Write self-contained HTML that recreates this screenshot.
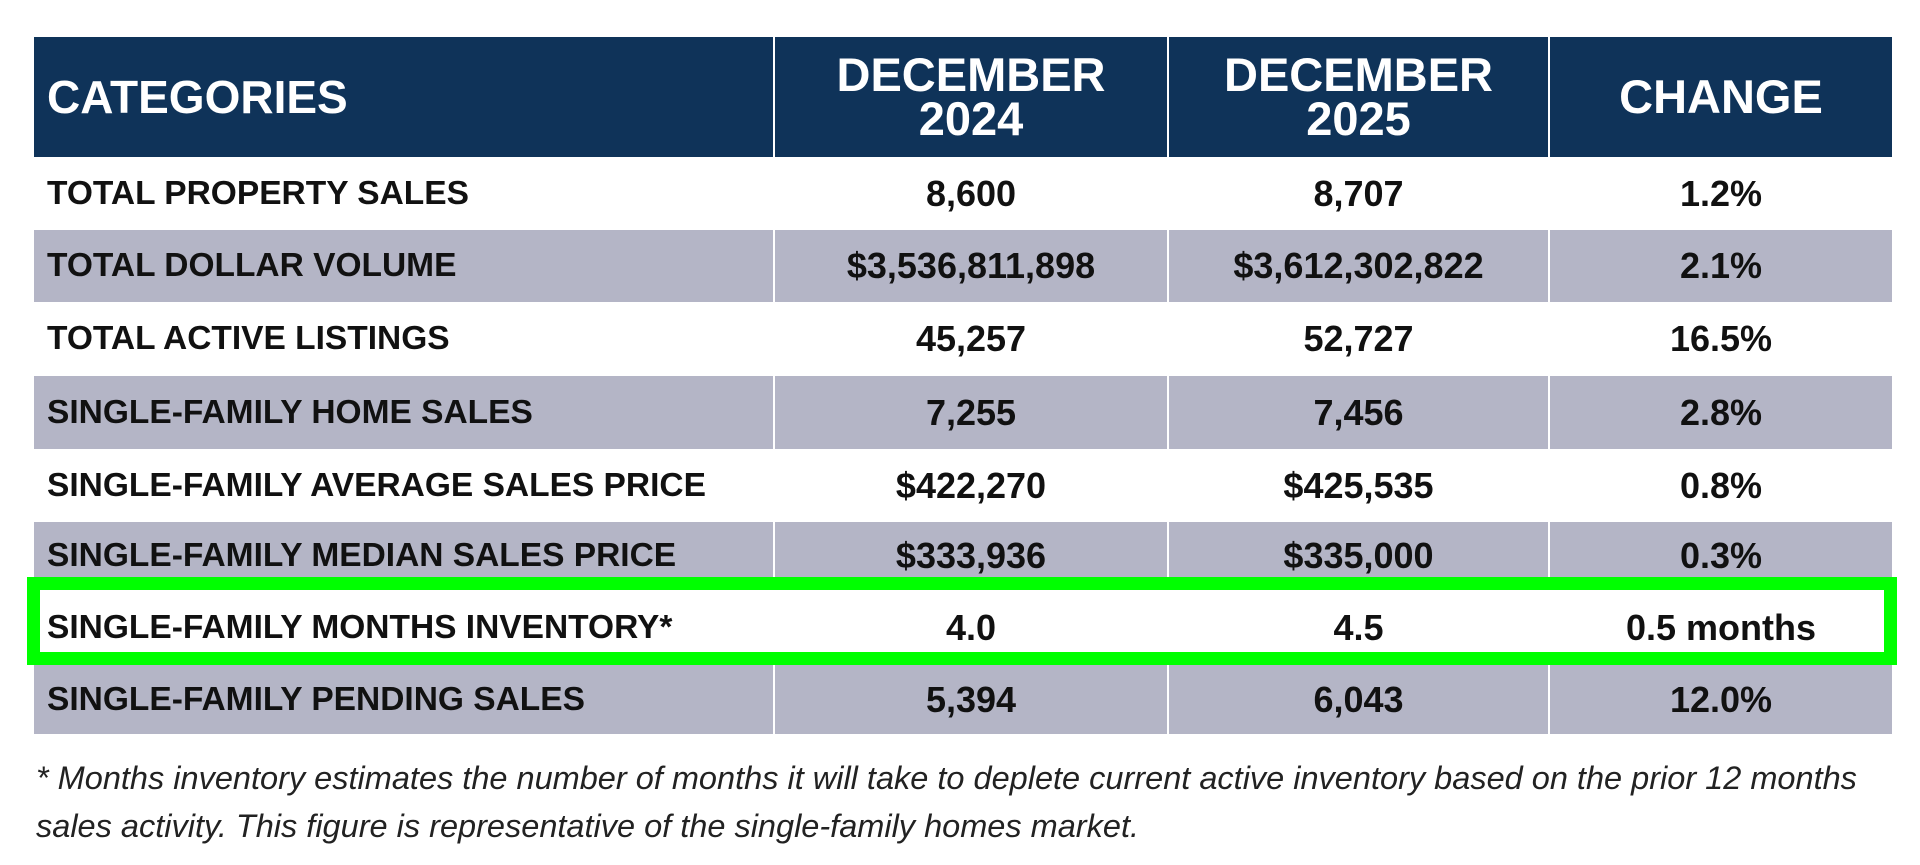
<!DOCTYPE html>
<html><head><meta charset="utf-8"><style>
body{margin:0;width:1920px;height:865px;background:#fff;position:relative;overflow:hidden;font-family:"Liberation Sans",sans-serif}
.c{position:absolute;box-sizing:border-box;display:flex;align-items:center;color:#111;font-weight:bold;font-size:36px;border-right:2px solid #fff;white-space:nowrap}
.h{background:#0f3359;color:#fff;font-size:47px;line-height:44px;justify-content:center;text-align:center}
.l{padding-left:13px;font-size:33.5px}
.h.l{font-size:46px}
.v{justify-content:center}
.g{background:#b4b5c6}
#green{position:absolute;left:27px;top:577px;width:1870px;height:88px;box-sizing:border-box;border:13px solid #00ff00}
.foot{position:absolute;left:36px;font-style:italic;font-size:32.5px;color:#222;white-space:nowrap}
</style></head><body>
<div id="tbl"></div>
<div id="green"></div>
<div class="foot" style="top:760px">* Months inventory estimates the number of months it will take to deplete current active inventory based on the prior 12 months</div>
<div class="foot" style="top:808px">sales activity. This figure is representative of the single-family homes market.</div>
<script>
const headers=["CATEGORIES","DECEMBER<br>2024","DECEMBER<br>2025","CHANGE"];
const categories=["TOTAL PROPERTY SALES","TOTAL DOLLAR VOLUME","TOTAL ACTIVE LISTINGS","SINGLE-FAMILY HOME SALES","SINGLE-FAMILY AVERAGE SALES PRICE","SINGLE-FAMILY MEDIAN SALES PRICE","SINGLE-FAMILY MONTHS INVENTORY*","SINGLE-FAMILY PENDING SALES"];
const dec2024=["8,600","$3,536,811,898","45,257","7,255","$422,270","$333,936","4.0","5,394"];
const dec2025=["8,707","$3,612,302,822","52,727","7,456","$425,535","$335,000","4.5","6,043"];
const change=["1.2%","2.1%","16.5%","2.8%","0.8%","0.3%","0.5 months","12.0%"];
const colX=[34,775,1169,1550,1894];
const rowY=[37,157,230,302,376,449,522,590,665,734];
const tbl=document.getElementById('tbl');
function cell(txt,ci,ri,cls,name){
  const d=document.createElement('div');
  d.className='c '+cls;
  d.style.left=colX[ci]+'px';d.style.width=(colX[ci+1]-colX[ci])+'px';
  d.style.top=rowY[ri]+'px';d.style.height=(rowY[ri+1]-rowY[ri])+'px';
  d.innerHTML=txt;
  
  
  tbl.appendChild(d);
}
headers.forEach((h,i)=>cell(h,i,0,'h'+(i==0?' l':''),'header-'+i));
document.querySelector('.h').style.justifyContent='flex-start';
categories.forEach((c,r)=>{
  const g=(r%2==1)?' g':'';
  cell(c,0,r+1,'l'+g,'category-label');
  cell(dec2024[r],1,r+1,'v'+g,'dec-2024-value');
  cell(dec2025[r],2,r+1,'v'+g,'dec-2025-value');
  cell(change[r],3,r+1,'v'+g,'change-value');
});
</script>
</body></html>
